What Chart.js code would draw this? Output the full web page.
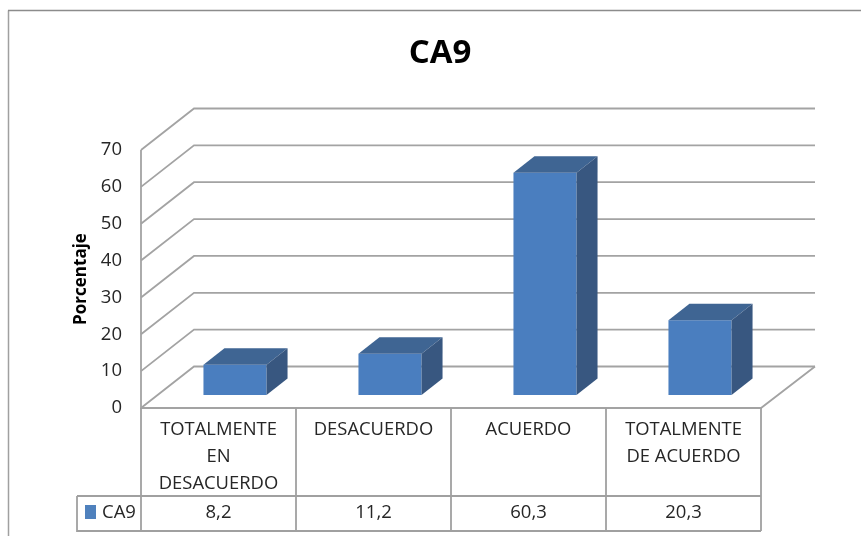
<!DOCTYPE html>
<html><head><meta charset="utf-8">
<style>html,body{margin:0;padding:0;background:#fff}#w{width:861px;height:536px;position:relative}canvas{filter:blur(0.45px)}</style>
<script src="https://cdn.jsdelivr.net/npm/chart.js@4"></script></head>
<body><div id="w"><canvas id="c" width="861" height="536"></canvas></div>
<script>
const chartTitle = "CA9";
const yTitle = "Porcentaje";
const seriesName = "CA9";
const categories = [["TOTALMENTE","EN","DESACUERDO"],["DESACUERDO"],["ACUERDO"],["TOTALMENTE","DE ACUERDO"]];
const values = [8.2, 11.2, 60.3, 20.3];
const yTicks = [0,10,20,30,40,50,60,70];

const FONT = '"Open Sans", sans-serif';
const GRID = '#a3a3a3', TXT = '#262626';
const depth = {x:53, y:-41.5}, barShift = {x:16.5, y:-13}, barDepth = {x:21, y:-16.5};

const wall = {
  id:'wall',
  beforeDatasetsDraw(ch){
    const c = ch.ctx, y = ch.scales.y, a = ch.chartArea;
    c.save();
    c.strokeStyle = '#a0a0a0'; c.lineWidth = 1.5;
    c.beginPath(); c.moveTo(8.5,536); c.lineTo(8.5,10.5); c.stroke();
    c.strokeStyle = '#8c8c8c';
    c.beginPath(); c.moveTo(8,10.5); c.lineTo(861,10.5); c.stroke();
    c.strokeStyle = GRID; c.lineWidth = 1.8;
    y.ticks.forEach(t=>{
      const p = y.getPixelForValue(t.value);
      c.beginPath(); c.moveTo(a.left,p); c.lineTo(a.left+depth.x,p+depth.y); c.lineTo(a.right+depth.x+1,p+depth.y); c.stroke();
    });
    // floor front/right edge and left wall
    c.beginPath(); c.moveTo(a.left,a.top); c.lineTo(a.left,a.bottom); c.lineTo(a.right,a.bottom); c.lineTo(a.right+depth.x+1,a.bottom+depth.y); c.stroke();
    // data table
    const x = ch.scales.x, n = categories.length, w = (a.right-a.left)/n;
    const rowT = 496, rowB = 531, keyL = 77;
    c.strokeStyle = '#a0a0a0';
    for(let i=0;i<=n;i++){
      const px = a.left + i*w;
      c.beginPath(); c.moveTo(px,a.bottom); c.lineTo(px,rowB); c.stroke();
    }
    c.beginPath(); c.moveTo(keyL,rowT); c.lineTo(a.right,rowT); c.moveTo(keyL,rowT); c.lineTo(keyL,rowB); c.lineTo(a.right,rowB); c.stroke();
    c.fillStyle = '#4f81bd'; c.fillRect(85,505,11,14);
    c.fillStyle = TXT; c.font = '18.5px '+FONT; c.textBaseline = 'middle';
    c.textAlign = 'left'; c.fillText(seriesName,102,513);
    c.textAlign = 'center';
    values.forEach((v,i)=> c.fillText(String(v).replace('.',','), x.getPixelForValue(i), 513));
    c.restore();
    c.save(); c.translate(barShift.x,barShift.y);
  },
  afterDatasetsDraw(ch){
    const c = ch.ctx;
    ch.getDatasetMeta(0).data.forEach(b=>{
      const L = b.x-b.width/2, R = b.x+b.width/2, T = b.y, B = b.base;
      c.fillStyle = '#3f6593';
      c.beginPath(); c.moveTo(L,T); c.lineTo(L+barDepth.x,T+barDepth.y); c.lineTo(R+barDepth.x,T+barDepth.y); c.lineTo(R,T); c.closePath(); c.fill();
      c.fillStyle = '#385780';
      c.beginPath(); c.moveTo(R,T); c.lineTo(R+barDepth.x,T+barDepth.y); c.lineTo(R+barDepth.x,B+barDepth.y); c.lineTo(R,B); c.closePath(); c.fill();
    });
    c.restore();
  }
};

new Chart(document.getElementById('c'),{
  type:'bar',
  data:{labels:categories,datasets:[{label:seriesName,data:values,backgroundColor:'#4a7ebf',borderWidth:0,barPercentage:0.407,categoryPercentage:1,clip:false}]},
  plugins:[wall],
  options:{
    responsive:false,animation:false,
    layout:{padding:{left:19,right:0,top:0,bottom:0}},
    plugins:{
      legend:{display:false},tooltip:{enabled:false},
      title:{display:true,text:chartTitle,color:'#000',font:{family:FONT,size:33,weight:'bold',lineHeight:'40px'},padding:{top:34,bottom:76}}
    },
    scales:{
      x:{
        grid:{display:false,drawTicks:false},border:{display:false},
        ticks:{color:TXT,font:{family:FONT,size:18.4,lineHeight:'27px'},maxRotation:0,minRotation:0,autoSkip:false,padding:8},
        afterFit(s){s.height=128;}
      },
      y:{
        min:0,max:70,
        afterBuildTicks(s){s.ticks=yTicks.map(v=>({value:v}));},
        grid:{display:false,drawTicks:false},border:{display:false},
        ticks:{color:TXT,font:{family:FONT,size:18.5},padding:19},
        title:{display:true,text:yTitle,color:'#000',font:{family:FONT,size:17,weight:'bold',lineHeight:'17px'},padding:{top:53.5,bottom:0}},
        afterFit(s){s.width=122;}
      },
      yRight:{
        position:'right',min:0,max:70,
        grid:{display:false,drawTicks:false},border:{display:false},
        ticks:{display:false},
        afterFit(s){s.width=100;}
      }
    }
  }
});
</script></body></html>
